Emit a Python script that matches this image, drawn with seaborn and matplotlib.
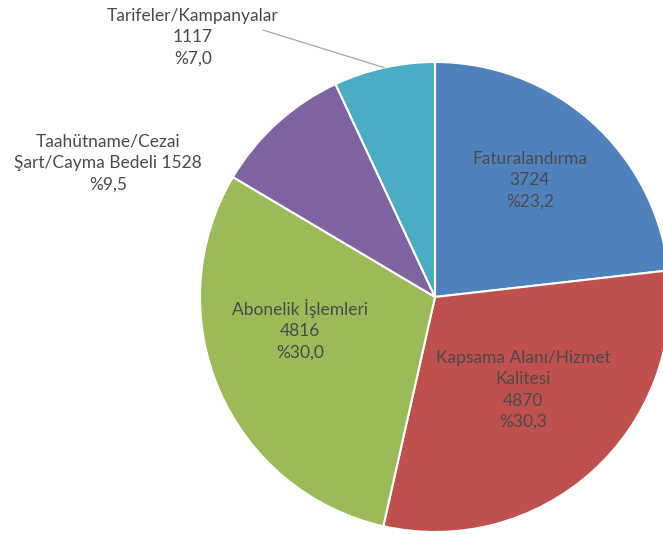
import numpy as np
import matplotlib
matplotlib.use("Agg")
import matplotlib.pyplot as plt
import seaborn as sns

# Complaint categories (clockwise from 12 o'clock)
categories = ["Faturalandırma", "Kapsama Alanı/Hizmet\nKalitesi", "Abonelik İşlemleri",
              "Taahütname/Cezai\nŞart/Cayma Bedeli", "Tarifeler/Kampanyalar"]
counts = [3724, 4870, 4816, 1528, 1117]
colors = ["#4F81BD", "#C0504D", "#9BBB59", "#8064A2", "#4BACC6"]

# label placement: (angle deg, radius) in pie units
label_pos = [(50.9, 0.64), (-46.6, 0.545), (-166.3, 0.59), (157.7, 1.503), (133.0, 1.51)]

sns.set_theme(style="white")
plt.rcParams['font.family'] = ['Lato', 'DejaVu Sans']

fig = plt.figure(figsize=(6.63, 5.35), dpi=100)
ax = fig.add_axes([0, 0, 1, 1])

wedges, _ = ax.pie(counts, colors=colors, startangle=90, counterclock=False,
                   radius=1.0, wedgeprops=dict(edgecolor="white", linewidth=1.5))

total = sum(counts)
for i, (cat, n) in enumerate(zip(categories, counts)):
    pct = f"%{n / total * 100:.1f}".replace(".", ",")
    if i == 3:
        txt = f"{cat} {n}\n{pct}"
    else:
        txt = f"{cat}\n{n}\n{pct}"
    ang, r = label_pos[i]
    x, y = r * np.cos(np.radians(ang)), r * np.sin(np.radians(ang))
    ax.text(x, y, txt, ha="center", va="center", fontsize=12.5,
            color="#4a4a4a", linespacing=1.4)

# leader line for the small slice
w = wedges[4]
mid = np.radians((w.theta1 + w.theta2) / 2)
ax.plot([-0.732, np.cos(mid)], [1.136, np.sin(mid)], color="#A6A6A6", lw=0.9)

# center at pixel (435, 297), radius 235 px
ax.set_xlim(-435 / 235, (663 - 435) / 235)
ax.set_ylim(-(535 - 297) / 235, 297 / 235)
ax.set_aspect("auto")
ax.axis("off")

fig.savefig("out.png", dpi=100)
